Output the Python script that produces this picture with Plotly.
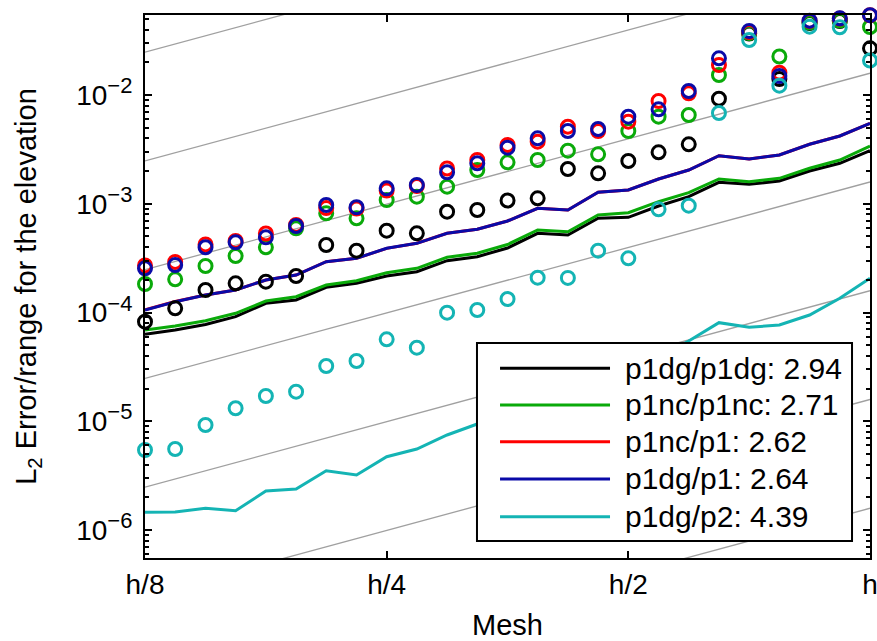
import plotly.graph_objects as go

# ---------------- data ----------------
mesh = [0.125, 0.1363, 0.1487, 0.1621, 0.1768, 0.1928, 0.2102, 0.2293, 0.25,
        0.2726, 0.2973, 0.3242, 0.3536, 0.3855, 0.4204, 0.4585, 0.5,
        0.5453, 0.5946, 0.6484, 0.7071, 0.7711, 0.8409, 0.9170, 1.0]

mesh_ticks = [0.125, 0.25, 0.5, 1.0]
mesh_labels = ["h/8", "h/4", "h/2", "h"]

err_ticks = [1e-6, 1e-5, 1e-4, 1e-3, 1e-2]
err_exponents = ["\u22126", "\u22125", "\u22124", "\u22123", "\u22122"]

names = ["p1dg/p1dg: 2.94", "p1nc/p1nc: 2.71", "p1nc/p1: 2.62",
         "p1dg/p1: 2.64", "p1dg/p2: 4.39"]

# circle markers (measured errors)
pts_p1dg_p1dg = [8.23e-5, 1.093e-4, 1.61e-4, 1.855e-4, 1.92e-4, 2.166e-4, 4.176e-4, 3.70e-4,
                 5.65e-4, 5.35e-4, 8.45e-4, 8.76e-4, 1.071e-3, 1.122e-3, 2.087e-3, 1.905e-3,
                 2.473e-3, 2.972e-3, 3.521e-3, 9.23e-3, 3.677e-2, 1.403e-2, 4.593e-2, 4.79e-2,
                 2.688e-2]
pts_p1nc_p1nc = [1.829e-4, 2.02e-4, 2.677e-4, 3.308e-4, 3.977e-4, 5.946e-4, 8.17e-4, 7.35e-4,
                 1.083e-3, 1.161e-3, 1.435e-3, 2.043e-3, 2.405e-3, 2.525e-3, 3.075e-3, 2.849e-3,
                 4.667e-3, 6.318e-3, 6.55e-3, 1.527e-2, 3.716e-2, 2.259e-2, 4.642e-2, 4.842e-2,
                 4.221e-2]
pts_p1nc_p1 = [2.705e-4, 2.913e-4, 4.221e-4, 4.545e-4, 5.325e-4, 6.378e-4, 9.14e-4, 9.04e-4,
               1.324e-3, 1.456e-3, 2.109e-3, 2.525e-3, 3.47e-3, 3.72e-3, 5.11e-3, 4.667e-3,
               5.68e-3, 8.81e-3, 1.036e-2, 1.887e-2, 3.796e-2, 1.604e-2, 4.80e-2, 5.05e-2,
               5.41e-2]
pts_p1dg_p1 = [2.55e-4, 2.73e-4, 3.98e-4, 4.42e-4, 4.91e-4, 6.24e-4, 9.74e-4, 9.28e-4,
               1.387e-3, 1.487e-3, 1.946e-3, 2.355e-3, 3.277e-3, 3.998e-3, 4.667e-3, 4.868e-3,
               6.318e-3, 7.387e-3, 1.088e-2, 2.175e-2, 3.877e-2, 1.495e-2, 4.823e-2, 5.073e-2,
               5.42e-2]
pts_p1dg_p2 = [5.44e-6, 5.556e-6, 9.24e-6, 1.316e-5, 1.707e-5, 1.869e-5, 3.221e-5, 3.581e-5,
               5.67e-5, 4.747e-5, 9.96e-5, 1.054e-4, 1.331e-4, 2.089e-4, 2.08e-4, 3.70e-4,
               3.15e-4, 8.89e-4, 9.60e-4, 6.83e-3, 3.204e-2, 1.218e-2, 4.246e-2, 4.193e-2,
               2.076e-2]

# solid lines (legend entries)
line_p1dg_p1dg = [6.30e-5, 6.905e-5, 7.76e-5, 9.15e-5, 1.215e-4, 1.303e-4, 1.705e-4, 1.855e-4,
                  2.166e-4, 2.372e-4, 2.995e-4, 3.26e-4, 3.918e-4, 5.35e-4, 5.159e-4, 7.35e-4,
                  7.505e-4, 9.535e-4, 1.161e-3, 1.575e-3, 1.51e-3, 1.619e-3, 2.0e-3, 2.355e-3,
                  3.075e-3]
line_p1nc_p1nc = [6.905e-5, 7.514e-5, 8.41e-5, 9.83e-5, 1.276e-4, 1.397e-4, 1.79e-4, 1.96e-4,
                  2.323e-4, 2.55e-4, 3.218e-4, 3.503e-4, 4.221e-4, 5.736e-4, 5.534e-4, 7.88e-4,
                  8.276e-4, 1.044e-3, 1.264e-3, 1.689e-3, 1.595e-3, 1.714e-3, 2.118e-3, 2.525e-3,
                  3.396e-3]
line_p1nc_p1 = [1.06e-4, 1.26e-4, 1.45e-4, 1.61e-4, 1.99e-4, 2.21e-4, 2.93e-4, 3.15e-4,
                3.89e-4, 4.33e-4, 5.35e-4, 5.82e-4, 6.94e-4, 9.08e-4, 8.76e-4, 1.274e-3,
                1.338e-3, 1.689e-3, 2.043e-3, 2.766e-3, 2.579e-3, 2.808e-3, 3.521e-3, 4.198e-3,
                5.49e-3]
line_p1dg_p1 = [1.054e-4, 1.257e-4, 1.448e-4, 1.61e-4, 1.99e-4, 2.212e-4, 2.931e-4, 3.15e-4,
                3.893e-4, 4.328e-4, 5.35e-4, 5.823e-4, 6.94e-4, 9.08e-4, 8.76e-4, 1.274e-3,
                1.338e-3, 1.689e-3, 2.043e-3, 2.766e-3, 2.579e-3, 2.808e-3, 3.521e-3, 4.198e-3,
                5.493e-3]
line_p1dg_p2 = [1.455e-6, 1.464e-6, 1.583e-6, 1.505e-6, 2.284e-6, 2.382e-6, 3.51e-6, 3.204e-6,
                4.72e-6, 5.556e-6, 7.474e-6, 9.435e-6, 1.216e-5, 1.568e-5, 1.858e-5, 2.395e-5,
                2.96e-5, 3.897e-5, 5.47e-5, 8.06e-5, 7.31e-5, 7.68e-5, 9.48e-5, 1.351e-4,
                2.063e-4]

# second-order reference slopes: C * h^2
guide_coeffs = [1.585, 0.1585, 1.585e-2, 1.585e-3, 1.585e-4, 1.585e-5, 1.585e-6]
guide_x = [0.125, 1.0]

# ---------------- styling ----------------
colors = ["#000000", "#0aaa0a", "#ff0000", "#0a0aa8", "#14b4b4"]
FONT = "Liberation Sans, Arial, Helvetica, sans-serif"

err_labels = ["10<sup><span style='font-size:22px'>%s</span></sup>" % e for e in err_exponents]

points = [pts_p1dg_p1dg, pts_p1nc_p1nc, pts_p1nc_p1, pts_p1dg_p1, pts_p1dg_p2]
lines = [line_p1dg_p1dg, line_p1nc_p1nc, line_p1nc_p1, line_p1dg_p1, line_p1dg_p2]

fig = go.Figure()

for c in guide_coeffs:
    fig.add_trace(go.Scatter(
        x=guide_x, y=[c * gx ** 2 for gx in guide_x], mode="lines",
        line=dict(color="#a0a0a0", width=1.3), showlegend=False, hoverinfo="skip"))

for name, ys, col in zip(names, lines, colors):
    fig.add_trace(go.Scatter(
        x=mesh, y=ys, mode="lines", name=name, showlegend=False,
        line=dict(color=col, width=3)))

for name, ys, col in zip(names, points, colors):
    fig.add_trace(go.Scatter(
        x=mesh, y=ys, mode="markers", name=name, showlegend=False,
        cliponaxis=False,
        marker=dict(symbol="circle-open", size=13, color=col,
                    line=dict(width=3, color=col))))

# ---- legend box (drawn in paper coordinates, opaque, over the data) ----
LEG_X0, LEG_X1, LEG_Y0, LEG_Y1 = 0.4579, 0.9752, 0.0313, 0.3959
LINE_X0, LINE_X1, TEXT_X = 0.4897, 0.6414, 0.6593
ROW_Y = [0.3494, 0.2818, 0.2142, 0.1455, 0.0761]

shapes = [dict(type="rect", xref="paper", yref="paper",
               x0=LEG_X0, x1=LEG_X1, y0=LEG_Y0, y1=LEG_Y1,
               fillcolor="white", line=dict(color="black", width=2), layer="above")]
annotations = []
for name, col, ry in zip(names, colors, ROW_Y):
    shapes.append(dict(type="line", xref="paper", yref="paper",
                       x0=LINE_X0, x1=LINE_X1, y0=ry, y1=ry,
                       line=dict(color=col, width=3), layer="above"))
    annotations.append(dict(xref="paper", yref="paper", x=TEXT_X, y=ry,
                            xanchor="left", yanchor="middle", showarrow=False,
                            text=name, font=dict(family=FONT, size=30, color="black")))

fig.update_layout(
    width=877, height=641,
    margin=dict(l=145, r=7, t=15, b=83, autoexpand=False),
    paper_bgcolor="white", plot_bgcolor="white",
    font=dict(family=FONT, size=28, color="black"),
    showlegend=False,
    shapes=shapes, annotations=annotations,
    xaxis=dict(type="log", range=[-0.90309, 0.0], automargin=False,
               tickvals=mesh_ticks, ticktext=mesh_labels,
               ticks="inside", ticklen=7, tickwidth=2, tickcolor="black",
               showline=True, linecolor="black", linewidth=2, mirror="ticks",
               showgrid=False, zeroline=False, ticklabeloverflow="allow",
               tickfont=dict(size=28),
               title=dict(text="Mesh", font=dict(size=29), standoff=18)),
    yaxis=dict(type="log", range=[-6.2575, -1.2644], automargin=False,
               tickvals=err_ticks, ticktext=err_labels,
               ticks="inside", ticklen=7, tickwidth=2, tickcolor="black",
               showline=True, linecolor="black", linewidth=2, mirror="ticks",
               showgrid=False, zeroline=False, ticklabelstandoff=5,
               minor=dict(ticks="inside", ticklen=4, tickwidth=1.5,
                          tickcolor="black", dtick="D1", showgrid=False),
               tickfont=dict(size=28),
               title=dict(text="L<sub>2</sub> Error/range for the elevation",
                          font=dict(size=29), standoff=31)),
)

fig.write_html("out.html", config={"displayModeBar": False},
               post_script="document.body.style.margin='0px';")
